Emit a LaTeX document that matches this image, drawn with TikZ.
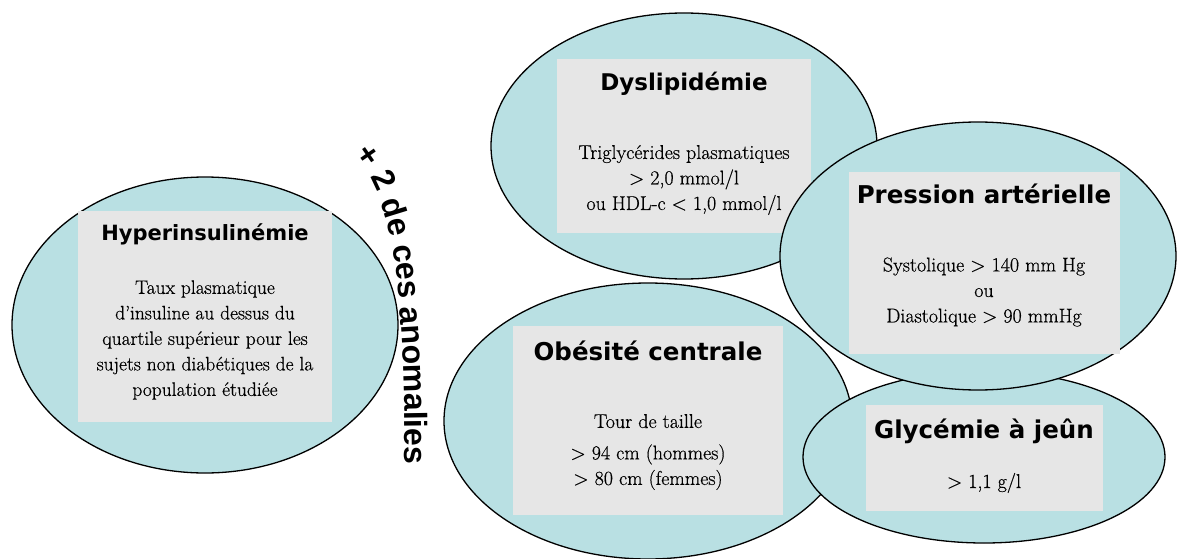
\documentclass[tikz,border=0pt]{standalone}
\usepackage{fontspec}
\usepackage{xcolor}
\usepackage{tikz}
\usetikzlibrary{shapes.geometric,decorations.text}
\newfontfamily\titrefont{DejaVu Sans}
\newfontfamily\arcfont{Liberation Sans}
\newfontfamily\corpsfont{Latin Modern Roman}[FakeBold=0.5]
\definecolor{bleu}{RGB}{185,224,227}
\definecolor{gris}{RGB}{230,230,230}
\tikzset{zone/.style={ellipse,draw=black,line width=1.3pt,fill=bleu,inner sep=0pt},cadre/.style={rectangle,fill=gris,inner sep=0pt},titre/.style={font=\titrefont\bfseries\fontsize{#1}{#1}\selectfont,inner sep=0pt},critere/.style={font=\corpsfont\fontsize{20}{25.5}\selectfont,align=center,inner sep=0pt}}

\begin{document}
\begin{tikzpicture}[x=1pt,y=-1pt]
			\fill[white] (0,0) rectangle (1178,559);
			\useasboundingbox (0,0) rectangle (1178,559);
			\node[zone,minimum width=386pt,minimum height=296pt] (hyper) at (205,325) {};
			\node[cadre,minimum width=254pt,minimum height=211pt] (hyperC) at (205,316.5) {};
			\node[titre=21] (hyperT) at (205,234) {Hyperinsulinémie};
			\node[critere,font=\corpsfont\fontsize{19.5}{25.5}\selectfont] (hyperB) at (205,340) {Taux plasmatique\\d’insuline au dessus du\\quartile supérieur pour les\\sujets non diabétiques de la\\population étudiée};
			\node[zone,minimum width=386pt,minimum height=266pt] (dys) at (684,146) {};
			\node[cadre,minimum width=254pt,minimum height=174pt] (dysC) at (684,146) {};
			\node[titre=23] (dysT) at (684,84) {Dyslipidémie};
			\node[critere] (dysB) at (684,180) {Triglycérides plasmatiques\\> 2,0 mmol/l\\ou HDL-c < 1,0 mmol/l};
			\node[zone,minimum width=408pt,minimum height=276pt] (obes) at (648,421) {};
			\node[cadre,minimum width=270pt,minimum height=189pt] (obesC) at (648,420.5) {};
			\node[titre=24.5] (obesT) at (648,351) {Obésité centrale};
			\node[critere] (obesB) at (648,452) {Tour de taille\\[6pt]> 94 cm (hommes)\\> 80 cm (femmes)};
			\node[zone,minimum width=362pt,minimum height=172pt] (glyc) at (984,457) {};
			\node[cadre,minimum width=237pt,minimum height=106pt] (glycC) at (984.5,458) {};
			\node[titre=24.5] (glycT) at (984,431) {Glycémie à jeûn};
			\node[critere] (glycB) at (984,483) {> 1,1 g/l};
			\node[zone,minimum width=396pt,minimum height=268pt] (pres) at (978,256) {};
			\node[cadre,minimum width=271pt,minimum height=182pt] (presC) at (984.5,263) {};
			\node[titre=24.5] (presT) at (984,194) {Pression artérielle};
			\node[critere] (presB) at (984,292) {Systolique > 140 mm Hg\\ou\\Diastolique > 90 mmHg};
			\path[decorate,decoration={text along path,text align=center,text={|\arcfont\bfseries\fontsize{32}{32}\selectfont|+ 2 de ces anomalies}}] (350,148) .. controls (388,194) and (405,250) .. (405,472);
		\end{tikzpicture}
\end{document}
